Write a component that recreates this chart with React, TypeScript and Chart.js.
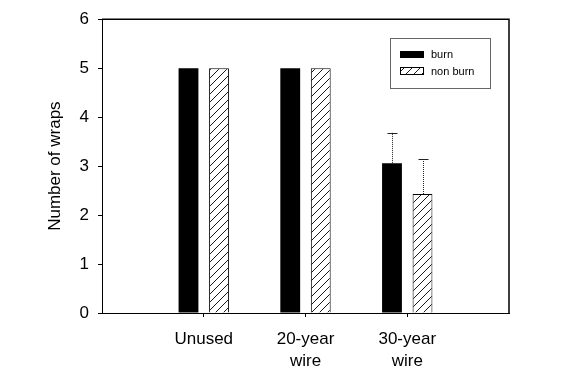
import React, { useEffect, useRef } from 'react';
import { Chart, registerables } from 'chart.js';

Chart.register(...registerables);

const categories: (string | string[])[] = ['Unused', ['20-year', 'wire'], ['30-year', 'wire']];
const categoryPositions = [1, 2, 3];
const seriesNames = ['burn', 'non burn'];
const burnValues = [5, 5, 3.06];
const burnErrors = [0, 0, 0.62];
const nonBurnValues = [5, 5, 2.43];
const nonBurnErrors = [0, 0, 0.71];
const yTickValues = [0, 1, 2, 3, 4, 5, 6];
const yTitle = 'Number of wraps';

const FONT = "'Liberation Sans', Arial, sans-serif";

function makeHatch(): CanvasPattern | string {
  const c = document.createElement('canvas');
  c.width = 8;
  c.height = 8;
  const g = c.getContext('2d');
  if (!g) return '#fff';
  g.fillStyle = '#fff';
  g.fillRect(0, 0, 8, 8);
  g.strokeStyle = '#000';
  g.lineWidth = 0.9;
  g.beginPath();
  g.moveTo(0, 8);
  g.lineTo(8, 0);
  g.moveTo(-1, 1);
  g.lineTo(1, -1);
  g.moveTo(7, 9);
  g.lineTo(9, 7);
  g.stroke();
  const p = g.createPattern(c, 'repeat');
  return p || '#fff';
}

const errorBarPlugin = {
  id: 'errorBars',
  afterDatasetsDraw(chart: any) {
    const ctx = chart.ctx;
    const ys = chart.scales.y;
    chart.data.datasets.forEach((ds: any, di: number) => {
      const meta = chart.getDatasetMeta(di);
      meta.data.forEach((bar: any, i: number) => {
        const e = ds.errors[i];
        if (!e) return;
        const v = ds.data[i].y;
        const top = ys.getPixelForValue(v + e);
        const x = Math.round(bar.x) + 0.5;
        ctx.save();
        ctx.strokeStyle = '#222';
        ctx.lineWidth = 1;
        ctx.setLineDash([1, 1]);
        ctx.beginPath();
        ctx.moveTo(x, bar.y);
        ctx.lineTo(x, top);
        ctx.stroke();
        ctx.setLineDash([]);
        ctx.beginPath();
        ctx.moveTo(x - 5, Math.round(top) + 0.5);
        ctx.lineTo(x + 5, Math.round(top) + 0.5);
        ctx.stroke();
        ctx.restore();
      });
    });
  },
};

const framePlugin = {
  id: 'frame',
  afterDraw(chart: any) {
    const { ctx, chartArea } = chart;
    ctx.save();
    ctx.strokeStyle = '#000';
    ctx.lineWidth = 1.5;
    ctx.beginPath();
    ctx.moveTo(chartArea.left, chartArea.top);
    ctx.lineTo(chartArea.right, chartArea.top);
    ctx.lineTo(chartArea.right, chartArea.bottom);
    ctx.stroke();
    ctx.restore();
  },
};

const legendPlugin = {
  id: 'boxLegend',
  afterDraw(chart: any) {
    const ctx = chart.ctx;
    const ds = chart.data.datasets;
    ctx.save();
    ctx.strokeStyle = '#666';
    ctx.lineWidth = 1;
    ctx.strokeRect(390.5, 38.5, 100, 50);
    ctx.fillStyle = ds[0].backgroundColor;
    ctx.fillRect(400, 51, 24, 7);
    ctx.fillStyle = ds[1].backgroundColor;
    ctx.fillRect(400, 67, 24, 8);
    ctx.strokeStyle = '#000';
    ctx.strokeRect(400.5, 67.5, 23, 7);
    ctx.fillStyle = '#000';
    ctx.font = `11px ${FONT}`;
    ctx.textBaseline = 'middle';
    ctx.textAlign = 'left';
    ctx.fillText(ds[0].label, 431, 55);
    ctx.fillText(ds[1].label, 431, 72);
    ctx.restore();
  },
};

export default function App() {
  const ref = useRef<HTMLCanvasElement>(null);

  useEffect(() => {
    document.body.style.margin = '0';
    const canvas = ref.current;
    if (!canvas) return;
    const hatch = makeHatch();
    const chart = new Chart(canvas, {
      type: 'bar',
      data: {
        datasets: [
          {
            label: seriesNames[0],
            data: burnValues.map((v, i) => ({ x: categoryPositions[i], y: v })),
            errors: burnErrors,
            backgroundColor: '#000',
            borderColor: '#000',
            borderWidth: 0,
            categoryPercentage: 0.6,
            barPercentage: 0.65,
          } as any,
          {
            label: seriesNames[1],
            data: nonBurnValues.map((v, i) => ({ x: categoryPositions[i], y: v })),
            errors: nonBurnErrors,
            backgroundColor: hatch,
            borderColor: '#000',
            borderWidth: 1,
            categoryPercentage: 0.6,
            barPercentage: 0.65,
          } as any,
        ],
      },
      options: {
        responsive: false,
        animation: false,
        events: [],
        layout: { padding: { left: 35, right: 64, top: 12, bottom: 0 } },
        plugins: {
          legend: { display: false },
          tooltip: { enabled: false },
          title: { display: false },
        },
        scales: {
          x: {
            type: 'linear',
            min: 0,
            max: 4,
            offset: false,
            afterBuildTicks: (s: any) => {
              s.ticks = categoryPositions.map((v) => ({ value: v }));
            },
            afterFit: (s: any) => {
              s.height = 64;
            },
            grid: {
              display: true,
              drawOnChartArea: false,
              drawTicks: true,
              tickLength: 4,
              color: '#000',
              offset: false,
            },
            border: { display: true, color: '#000', width: 1 },
            ticks: {
              autoSkip: false,
              maxRotation: 0,
              padding: 12,
              color: '#000',
              font: { family: FONT, size: 17, lineHeight: 1.25 },
              callback: (value: any) => {
                const idx = categoryPositions.indexOf(Number(value));
                return idx >= 0 ? (categories[idx] as any) : '';
              },
            },
          },
          y: {
            type: 'linear',
            min: 0,
            max: 6,
            afterBuildTicks: (s: any) => {
              s.ticks = yTickValues.map((v) => ({ value: v }));
            },
            afterFit: (s: any) => {
              s.width = 67;
            },
            grid: {
              display: true,
              drawOnChartArea: false,
              drawTicks: true,
              tickLength: 4,
              color: '#000',
            },
            border: { display: true, color: '#000', width: 1 },
            ticks: {
              padding: 9,
              color: '#000',
              font: { family: FONT, size: 17 },
            },
            title: {
              display: true,
              text: yTitle,
              color: '#000',
              font: { family: FONT, size: 17 },
              padding: { top: 10, bottom: 0 },
            },
          },
        },
      } as any,
      plugins: [errorBarPlugin, framePlugin, legendPlugin],
    });
    return () => chart.destroy();
  }, []);

  return (
    <div style={{ position: 'fixed', left: 0, top: 0, width: 573, height: 377, background: '#fff' }}>
      <canvas ref={ref} width={573} height={377} style={{ display: 'block' }} />
    </div>
  );
}
